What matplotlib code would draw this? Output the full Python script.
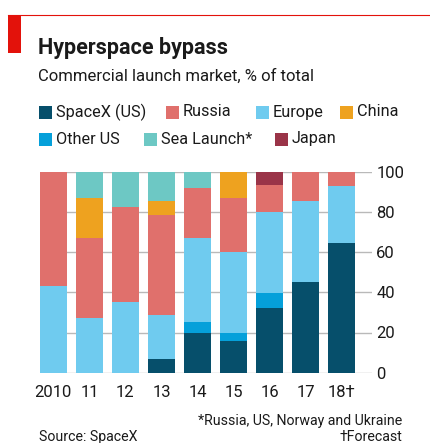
import matplotlib
matplotlib.use("Agg")
import matplotlib.pyplot as plt
from matplotlib.patches import Rectangle
from matplotlib.lines import Line2D
import numpy as np

years = ["2010", "11", "12", "13", "14", "15", "16", "17", "18†"]
series_names = ["SpaceX (US)", "Other US", "Europe", "Russia", "China", "Sea Launch*", "Japan"]
spacex     = [0, 0, 0, 7, 20, 16, 32, 45, 64.5]
other_us   = [0, 0, 0, 0, 5, 4, 7.5, 0, 0]
europe     = [43, 27, 35, 21.5, 42, 40, 40.5, 40.5, 28.5]
russia     = [57, 40, 47.5, 50, 25, 27, 13.5, 14.5, 7]
china      = [0, 20, 0, 7, 0, 13, 0, 0, 0]
sea_launch = [0, 13, 17.5, 14.5, 8, 0, 0, 0, 0]
japan      = [0, 0, 0, 0, 0, 0, 6.5, 0, 0]

colors = {
    "SpaceX (US)": "#064f6b",
    "Russia": "#e0706c",
    "Europe": "#6fcbef",
    "China": "#eea21f",
    "Other US": "#05a0da",
    "Sea Launch*": "#6dc8c4",
    "Japan": "#9a3448",
}
data = {
    "SpaceX (US)": spacex, "Other US": other_us, "Europe": europe,
    "Russia": russia, "China": china, "Sea Launch*": sea_launch, "Japan": japan,
}

W, H = 430, 443
fig = plt.figure(figsize=(W / 100, H / 100), dpi=100)
fig.patch.set_facecolor("white")
FONT = "Roboto"
plt.rcParams["font.family"] = [FONT, "DejaVu Sans"]

def px(x, y):
    return x / W, 1 - y / H

# top red rule and tag
fig.add_artist(Line2D([8 / W, 1], [1 - 15 / H, 1 - 15 / H], color="#e3120b", lw=0.8, transform=fig.transFigure))
fig.add_artist(Rectangle(px(8, 53), 13 / W, 38 / H, color="#e3120b", transform=fig.transFigure, lw=0))

fig.text(*px(38, 48), "Hyperspace bypass", fontsize=15.5, fontweight="bold", color="#1a1a1a", va="center", ha="left")
fig.text(*px(38, 76), "Commercial launch market, % of total", fontsize=12, color="#1a1a1a", va="center", ha="left")

# legend
legend_rows = [
    [("SpaceX (US)", 39), ("Russia", 166), ("Europe", 256), ("China", 340)],
    [("Other US", 39), ("Sea Launch*", 144), ("Japan", 275)],
]
for row, yc in zip(legend_rows, [112, 139]):
    for name, x0 in row:
        fig.add_artist(Rectangle(px(x0, yc + 6.5), 13 / W, 13 / H, color=colors[name], transform=fig.transFigure, lw=0))
        fig.text(*px(x0 + 17, yc), name, fontsize=11.7, color="#1a1a1a", va="center", ha="left")

ax = fig.add_axes([40 / W, 70.3 / H, (372 - 40) / W, 201 / H])
x = np.arange(len(years))
bottom = np.zeros(len(years))
order = ["SpaceX (US)", "Other US", "Europe", "Russia", "China", "Sea Launch*", "Japan"]
for name in order:
    vals = np.array(data[name], dtype=float)
    ax.bar(x, vals, bottom=bottom, width=0.74, color=colors[name], zorder=3, linewidth=0)
    bottom += vals

ax.set_xlim(-0.37, 8.84)
ax.set_ylim(0, 100)
ax.set_yticks([0, 20, 40, 60, 80, 100])
ax.yaxis.tick_right()
ax.tick_params(axis="y", length=0, pad=3, labelsize=12, labelcolor="#1a1a1a")
ax.set_xticks(x)
ax.set_xticklabels(years)
ax.tick_params(axis="x", length=0, pad=9, labelsize=12, labelcolor="#1a1a1a")
ax.grid(axis="y", color="#b9b9b9", lw=1, zorder=0)
for s in ax.spines.values():
    s.set_visible(False)

fig.text(*px(402, 421), "*Russia, US, Norway and Ukraine", fontsize=10.2, color="#1a1a1a", ha="right", va="center")
fig.text(*px(402, 437), "†Forecast", fontsize=10.2, color="#1a1a1a", ha="right", va="center")
fig.text(*px(39, 437), "Source: SpaceX", fontsize=10.2, color="#1a1a1a", ha="left", va="center")

fig.savefig("out.png", dpi=100)
